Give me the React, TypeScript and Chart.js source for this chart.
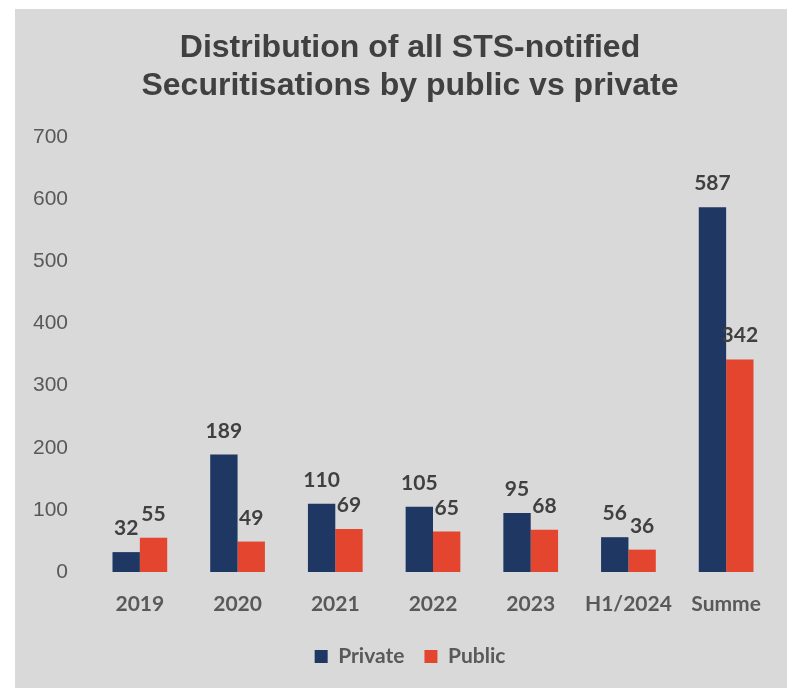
import React, { useEffect, useRef } from "react";
import { Chart, registerables } from "chart.js";

Chart.register(...registerables);

const categories = ["2019", "2020", "2021", "2022", "2023", "H1/2024", "Summe"];
const privateValues = [32, 189, 110, 105, 95, 56, 587];
const publicValues = [55, 49, 69, 65, 68, 36, 342];
const yTicks = [0, 100, 200, 300, 400, 500, 600, 700];
const titleLines = ["Distribution of all STS-notified", "Securitisations by public vs private"];
const seriesNames = ["Private", "Public"];

const BLUE = "#1f3763";
const RED = "#e3452f";
const BG = "#d9d9d9";

const labelPlugin = {
  id: "valueLabels",
  afterDatasetsDraw(chart: any) {
    const ctx = chart.ctx;
    ctx.save();
    ctx.font = "bold 21px Lato, 'Open Sans', sans-serif";
    ctx.fillStyle = "#404040";
    ctx.textAlign = "center";
    ctx.textBaseline = "alphabetic";
    chart.data.datasets.forEach((ds: any, di: number) => {
      const meta = chart.getDatasetMeta(di);
      meta.data.forEach((bar: any, i: number) => {
        ctx.fillText(String(ds.data[i]), bar.x, bar.y - 17);
      });
    });
    ctx.restore();
  },
};

export default function App() {
  const ref = useRef<HTMLCanvasElement>(null);
  useEffect(() => {
    if (!ref.current) return;
    const chart = new Chart(ref.current, {
      type: "bar",
      data: {
        labels: categories,
        datasets: [
          { label: seriesNames[0], data: privateValues, backgroundColor: BLUE, borderWidth: 0 },
          { label: seriesNames[1], data: publicValues, backgroundColor: RED, borderWidth: 0 },
        ],
      },
      options: {
        animation: false,
        responsive: false,
        maintainAspectRatio: false,
        layout: { padding: { left: 30, right: 12, top: 0, bottom: 11 } },
        datasets: { bar: { categoryPercentage: 0.56, barPercentage: 1.0 } },
        plugins: {
          title: {
            display: true,
            text: titleLines,
            color: "#404040",
            font: { family: "Arial, 'Liberation Sans', sans-serif", size: 32, weight: "bold", lineHeight: 1.1875 },
            padding: { top: 20, bottom: 32 },
          },
          legend: {
            display: true,
            position: "bottom",
            labels: {
              color: "#595959",
              font: { family: "Lato, 'Open Sans', sans-serif", size: 21, weight: "bold" },
              boxWidth: 13,
              boxHeight: 13,
              padding: 20,
            },
          },
          tooltip: { enabled: false },
        },
        scales: {
          x: {
            grid: { display: false, drawTicks: false },
            border: { display: false },
            ticks: {
              color: "#595959",
              font: { family: "Lato, 'Open Sans', sans-serif", size: 21, weight: "bold" },
              padding: 20,
            },
            afterFit: (s: any) => { s.height = 54; },
          },
          y: {
            min: 0,
            max: 700,
            grid: { display: false, drawTicks: false },
            border: { display: false },
            afterBuildTicks: (s: any) => { s.ticks = yTicks.map((v) => ({ value: v })); },
            ticks: {
              color: "#595959",
              font: { family: "Arial, 'Liberation Sans', sans-serif", size: 21 },
              padding: 23,
            },
            afterFit: (s: any) => {
              s.width = 46;
              s._computeLabelArea = () => undefined;
            },
          },
        },
      },
      plugins: [labelPlugin],
    } as any);
    return () => chart.destroy();
  }, []);
  return (
    <div style={{ position: "absolute", left: 15, top: 9, width: 772, height: 679, background: BG }}>
      <canvas ref={ref} width={772} height={679} style={{ display: "block" }} />
    </div>
  );
}
